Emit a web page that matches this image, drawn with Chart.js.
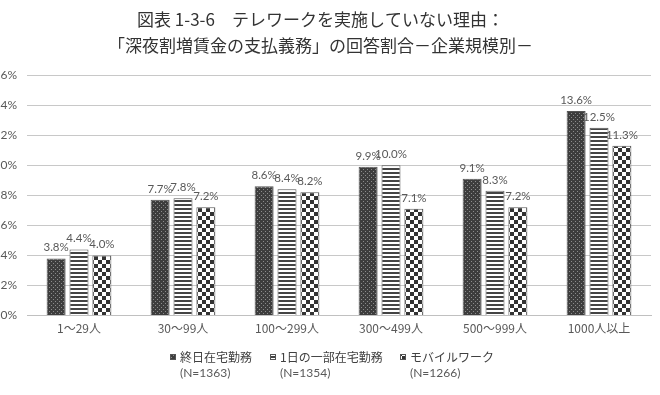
<!DOCTYPE html>
<html>
<head>
<meta charset="utf-8">
<script src="https://cdn.jsdelivr.net/npm/chart.js@4.4.1/dist/chart.umd.min.js"></script>
<style>
  html, body { margin: 0; padding: 0; background: #fff; overflow: hidden; }
  #wrap { position: absolute; left: -10px; top: 0; width: 680px; height: 395px; }
</style>
</head>
<body>
<div id="wrap"><canvas id="chart" width="680" height="395"></canvas></div>
<script>
const titleLines = ['図表 1-3-6　テレワークを実施していない理由：', '「深夜割増賃金の支払義務」の回答割合－企業規模別－'];
const categories = ['1～29人', '30～99人', '100～299人', '300～499人', '500～999人', '1000人以上'];
const seriesNames = ['終日在宅勤務', '1日の一部在宅勤務', 'モバイルワーク'];
const seriesCounts = ['(N=1363)', '(N=1354)', '(N=1266)'];
const fullDay = [3.8, 7.7, 8.6, 9.9, 9.1, 13.6];
const partDay = [4.4, 7.8, 8.4, 10.0, 8.3, 12.5];
const mobile = [4.0, 7.2, 8.2, 7.1, 7.2, 11.3];
const yTicks = [0, 2, 4, 6, 8, 10, 12, 14, 16];

const numFont = 'Lato, "Liberation Sans", sans-serif';
const jpFont = '"Noto Sans CJK JP", sans-serif';

// fill patterns
const makePattern = (size, draw) => {
  const c = document.createElement('canvas');
  c.width = size; c.height = size;
  draw(c.getContext('2d'));
  return c.getContext('2d').createPattern(c, 'repeat');
};
const dotted = makePattern(4, (g) => {
  g.fillStyle = '#3d3d3d'; g.fillRect(0, 0, 4, 4);
  g.fillStyle = '#8c8c8c'; g.fillRect(1, 1, 1, 1); g.fillRect(3, 3, 1, 1);
});
const striped = makePattern(4, (g) => {
  g.fillStyle = '#ffffff'; g.fillRect(0, 0, 4, 4);
  g.fillStyle = '#444444'; g.fillRect(0, 0, 4, 2);
});
const checker = makePattern(8, (g) => {
  g.fillStyle = '#ffffff'; g.fillRect(0, 0, 8, 8);
  g.fillStyle = '#333333'; g.fillRect(0, 0, 4, 4); g.fillRect(4, 4, 4, 4);
});
const fills = [dotted, striped, checker];

const valueLabels = {
  id: 'valueLabels',
  afterDatasetsDraw(chart) {
    const { ctx } = chart;
    ctx.save();
    ctx.font = '11.5px ' + numFont;
    ctx.fillStyle = '#595959';
    ctx.textAlign = 'center';
    ctx.textBaseline = 'bottom';
    chart.data.datasets.forEach((ds, i) => {
      chart.getDatasetMeta(i).data.forEach((bar, j) => {
        ctx.fillText(ds.data[j].toFixed(1) + '%', bar.x, bar.y - 5);
      });
    });
    ctx.restore();
  },
};

// legend below the axis: series name on top, sample size under it
const bottomLegend = {
  id: 'bottomLegend',
  afterDraw(chart) {
    const { ctx } = chart;
    ctx.save();
    const offsets = [-160, -60, 70]; // icon x relative to the centre
    const box = 6;
    const y1 = 357;
    const y2 = 373;
    seriesNames.forEach((name, i) => {
      const x = chart.width / 2 + offsets[i];
      ctx.fillStyle = fills[i];
      ctx.fillRect(x, y1 - 3, box, box);
      ctx.strokeStyle = '#555';
      ctx.lineWidth = 1;
      ctx.strokeRect(x + 0.5, y1 - 2.5, box - 1, box - 1);
      ctx.fillStyle = '#404040';
      ctx.font = '12px ' + jpFont;
      ctx.textAlign = 'left';
      ctx.textBaseline = 'middle';
      ctx.fillText(name, x + 10, y1);
      ctx.font = '12px ' + numFont;
      ctx.fillStyle = '#595959';
      ctx.fillText(seriesCounts[i], x + 10, y2);
    });
    ctx.restore();
  },
};

new Chart(document.getElementById('chart'), {
  type: 'bar',
  data: {
    labels: categories,
    datasets: [fullDay, partDay, mobile].map((d, i) => ({
      label: seriesNames[i],
      data: d,
      backgroundColor: fills[i],
      borderColor: '#555555',
      borderWidth: 1,
      categoryPercentage: 0.66,
      barPercentage: 0.83,
    })),
  },
  options: {
    responsive: false,
    animation: false,
    layout: { padding: { top: 0, right: 19, bottom: 53, left: 0 } },
    plugins: {
      legend: { display: false },
      tooltip: { enabled: false },
      title: {
        display: true,
        text: titleLines,
        color: '#333333',
        font: { family: jpFont, size: 17, weight: 'normal', lineHeight: 1.5 },
        padding: { top: 7, bottom: 17 },
      },
    },
    scales: {
      x: {
        grid: { display: false, drawTicks: false },
        border: { color: '#c0c0c0' },
        ticks: { color: '#595959', font: { family: jpFont, size: 12 }, padding: 6, maxRotation: 0 },
      },
      y: {
        min: 0,
        max: 16,
        afterFit(scale) { scale.width = 37; },
        afterBuildTicks(scale) { scale.ticks = yTicks.map((v) => ({ value: v })); },
        grid: { color: '#c8c8c8', drawTicks: false },
        border: { display: false },
        ticks: {
          color: '#595959',
          font: { family: numFont, size: 12 },
          padding: 10,
          callback: (v) => v + '%',
        },
      },
    },
  },
  plugins: [valueLabels, bottomLegend],
});
</script>
</body>
</html>
